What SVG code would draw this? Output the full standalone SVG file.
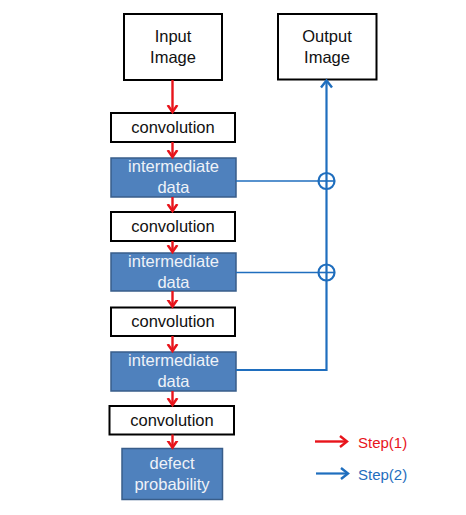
<svg xmlns="http://www.w3.org/2000/svg" width="466" height="515" viewBox="0 0 466 515">
  <defs>
    <marker id="hr" markerUnits="userSpaceOnUse" markerWidth="14" markerHeight="14" refX="7" refY="7" orient="auto" viewBox="0 0 14 14">
      <path d="M0,2.2 L7,7 L0,11.8" fill="none" stroke="#E8141B" stroke-width="2.5"/>
    </marker>
    <marker id="hrl" markerUnits="userSpaceOnUse" markerWidth="16" markerHeight="16" refX="8" refY="8" orient="auto" viewBox="0 0 16 16">
      <path d="M1,2.5 L8,8 L1,13.5" fill="none" stroke="#E8141B" stroke-width="2.4"/>
    </marker>
    <marker id="hb" markerUnits="userSpaceOnUse" markerWidth="16" markerHeight="16" refX="8" refY="8" orient="auto" viewBox="0 0 16 16">
      <path d="M1,2.5 L8,8 L1,13.5" fill="none" stroke="#1F6EBE" stroke-width="2.4"/>
    </marker>
  </defs>
  <style>
    .wbox { fill: #ffffff; stroke: #000000; stroke-width: 2; }
    .bbox { fill: #4F81BD; stroke: #385D8A; stroke-width: 1.5; }
    .t { font-family: "Liberation Sans", Arial, sans-serif; font-size: 16.5px; text-anchor: middle; fill: #111111; }
    .tw { font-family: "Liberation Sans", Arial, sans-serif; font-size: 16.5px; text-anchor: middle; fill: #EEF2F8; }
    .red { fill: none; stroke: #E8141B; stroke-width: 2.4; }
    .blue { fill: none; stroke: #1F6EBE; stroke-width: 2.2; }
    .bluethin { fill: none; stroke: #1F6EBE; stroke-width: 1.6; }
    .leg { font-family: "Liberation Sans", Arial, sans-serif; font-size: 15px; }
  </style>

  <g id="input-image">
    <rect class="wbox" x="124" y="14" width="98" height="66"/>
    <text class="t" x="173" y="42">Input</text>
    <text class="t" x="173" y="63">Image</text>
  </g>
  <g id="output-image">
    <rect class="wbox" x="278" y="14" width="98.5" height="65.5"/>
    <text class="t" x="327" y="42">Output</text>
    <text class="t" x="327" y="63">Image</text>
  </g>
  <g id="conv1">
    <rect class="wbox" x="111" y="113" width="124" height="29"/>
    <text class="t" x="173" y="133">convolution</text>
  </g>
  <g id="inter1">
    <rect class="bbox" x="111" y="158" width="125" height="39"/>
    <text class="tw" x="173.5" y="172">intermediate</text>
    <text class="tw" x="173.5" y="193">data</text>
  </g>
  <g id="conv2">
    <rect class="wbox" x="111" y="212" width="124" height="29"/>
    <text class="t" x="173" y="232">convolution</text>
  </g>
  <g id="inter2">
    <rect class="bbox" x="111" y="253" width="125" height="38"/>
    <text class="tw" x="173.5" y="267">intermediate</text>
    <text class="tw" x="173.5" y="288">data</text>
  </g>
  <g id="conv3">
    <rect class="wbox" x="111" y="307.5" width="124" height="28.5"/>
    <text class="t" x="173" y="327">convolution</text>
  </g>
  <g id="inter3">
    <rect class="bbox" x="111" y="352" width="125" height="39"/>
    <text class="tw" x="173.5" y="366">intermediate</text>
    <text class="tw" x="173.5" y="387">data</text>
  </g>
  <g id="conv4">
    <rect class="wbox" x="109.5" y="406" width="124.5" height="28.5"/>
    <text class="t" x="172" y="426">convolution</text>
  </g>
  <g id="defect">
    <rect class="bbox" x="122" y="448.5" width="100.5" height="51"/>
    <text class="tw" x="172" y="468.5">defect</text>
    <text class="tw" x="172" y="489.5">probability</text>
  </g>

  <g id="connectors">
    <path class="red" d="M172.5,80 L172.5,112" marker-end="url(#hr)"/>
    <path class="red" d="M172.5,142 L172.5,157" marker-end="url(#hr)"/>
    <path class="red" d="M172.5,197 L172.5,211" marker-end="url(#hr)"/>
    <path class="red" d="M172.5,241 L172.5,252" marker-end="url(#hr)"/>
    <path class="red" d="M172.5,291 L172.5,306.5" marker-end="url(#hr)"/>
    <path class="red" d="M172.5,336 L172.5,351" marker-end="url(#hr)"/>
    <path class="red" d="M172.5,391 L172.5,405" marker-end="url(#hr)"/>
    <path class="red" d="M172.5,434.5 L172.5,447.5" marker-end="url(#hr)"/>

    <path class="bluethin" d="M236,181 L318.5,181"/>
    <path class="bluethin" d="M236,272.5 L318.5,272.5"/>
    <path class="blue" d="M236,370 L326.5,370 L326.5,80.5" marker-end="url(#hb)"/>
    <g id="sum1">
      <circle class="blue" cx="326.5" cy="181" r="8"/>
      <path class="bluethin" d="M318.5,181 L334.5,181"/>
    </g>
    <g id="sum2">
      <circle class="blue" cx="326.5" cy="272.5" r="8"/>
      <path class="bluethin" d="M318.5,272.5 L334.5,272.5"/>
    </g>
  </g>

  <g id="legend">
    <path class="red" d="M315,441.5 L347,441.5" marker-end="url(#hrl)"/>
    <text class="leg" x="358" y="448" fill="#E8141B">Step(1)</text>
    <path class="blue" d="M316,473.5 L348,473.5" marker-end="url(#hb)"/>
    <text class="leg" x="358" y="480" fill="#1F6EBE">Step(2)</text>
  </g>
</svg>
